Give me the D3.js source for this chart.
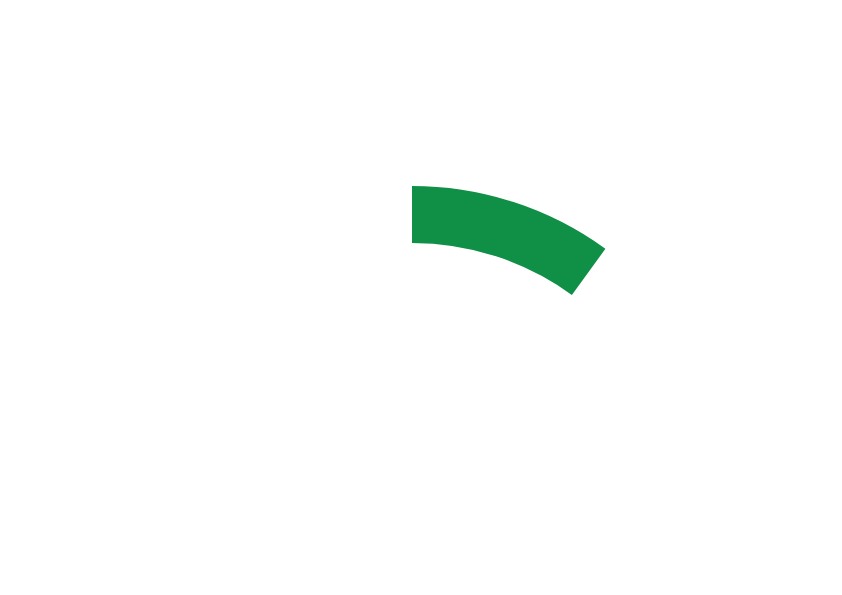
<!DOCTYPE html>
<html>
<head>
<meta charset="utf-8">
<script src="https://cdn.jsdelivr.net/npm/d3@7"></script>
<style>
  html, body { margin: 0; padding: 0; background: #ffffff; }
  svg { display: block; }
</style>
</head>
<body>
<svg id="chart" width="842" height="595"></svg>
<script>
// Data
const categories = ["Value"];
const values = [10];
const maxValues = [100];
const colors = ["#108f46"];

const width = 842, height = 595;
const cx = 412, cy = 515;
const outerR = 329, innerR = 272;

const svg = d3.select("#chart");
const g = svg.append("g").attr("transform", `translate(${cx},${cy})`);

const angle = d3.scaleLinear().domain([0, maxValues[0]]).range([0, 2 * Math.PI]);

const arc = d3.arc()
  .innerRadius(innerR)
  .outerRadius(outerR)
  .startAngle(0)
  .endAngle(d => angle(d));

g.selectAll("path.seg")
  .data(values)
  .join("path")
  .attr("class", "seg")
  .attr("d", d => arc(d))
  .attr("fill", (d, i) => colors[i]);
</script>
</body>
</html>
